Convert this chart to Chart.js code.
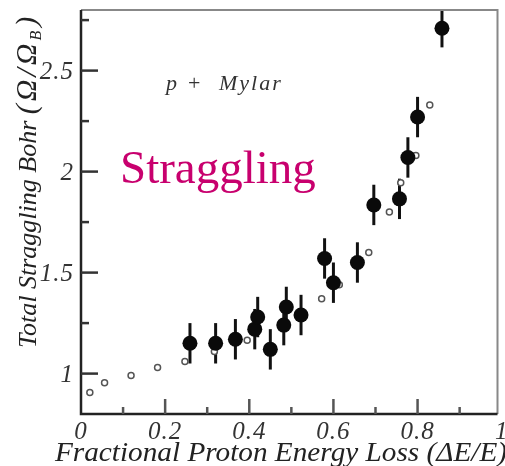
<!DOCTYPE html>
<html>
<head>
<meta charset="utf-8">
<script src="https://cdn.jsdelivr.net/npm/chart.js@4"></script>
<style>
  html, body { margin: 0; padding: 0; background: #fff; overflow: hidden; }
  #wrap { width: 505px; height: 466px; }
</style>
</head>
<body>
<div id="wrap"><canvas id="straggleChart"></canvas></div>
<script>
// measured points (filled, with error bars)
var filledX = [0.259, 0.32, 0.367, 0.413, 0.42, 0.45, 0.482, 0.488, 0.523, 0.579, 0.60, 0.657, 0.696, 0.757, 0.777, 0.80, 0.858];
var filledY = [1.15, 1.15, 1.17, 1.22, 1.28, 1.12, 1.24, 1.33, 1.29, 1.57, 1.45, 1.55, 1.835, 1.865, 2.07, 2.27, 2.71];
var filledErr = [0.1, 0.1, 0.1, 0.1, 0.1, 0.1, 0.1, 0.1, 0.1, 0.1, 0.1, 0.1, 0.1, 0.1, 0.1, 0.1, 0.095];

// open circles (calculation)
var openX = [0.021, 0.056, 0.119, 0.182, 0.247, 0.317, 0.395, 0.572, 0.614, 0.684, 0.733, 0.76, 0.796, 0.829];
var openY = [0.906, 0.955, 0.99, 1.03, 1.06, 1.11, 1.165, 1.37, 1.44, 1.60, 1.80, 1.945, 2.08, 2.33];

// axis ticks
var xTickLabels = ['0', '0.2', '0.4', '0.6', '0.8', '1'];
var xMinorTicks = [0.1, 0.3, 0.5, 0.7, 0.9];
var yTickLabels = ['1', '1.5', '2', '2.5'];
var yMinorTicks = [1.25, 1.75, 2.25, 2.75];

var SERIF = '"Liberation Serif", "DejaVu Serif", serif';

var filledPts = filledX.map(function (x, i) { return { x: x, y: filledY[i] }; });
var openPts = openX.map(function (x, i) { return { x: x, y: openY[i] }; });

// error bars, drawn under the markers
var errorBars = {
  id: 'errorBars',
  beforeDatasetsDraw: function (chart) {
    var c = chart.ctx, xs = chart.scales.x, ys = chart.scales.y;
    c.save();
    c.strokeStyle = '#111';
    c.lineWidth = 3;
    filledX.forEach(function (x, i) {
      var px = xs.getPixelForValue(x);
      var top = Math.max(ys.getPixelForValue(filledY[i] + filledErr[i]), chart.chartArea.top);
      c.beginPath();
      c.moveTo(px, top);
      c.lineTo(px, ys.getPixelForValue(filledY[i] - filledErr[i]));
      c.stroke();
    });
    c.restore();
  }
};

// frame, inward ticks, labels and titles
var frame = {
  id: 'frame',
  afterDraw: function (chart) {
    var c = chart.ctx, a = chart.chartArea, xs = chart.scales.x, ys = chart.scales.y;
    c.save();
    // top / right frame
    c.strokeStyle = '#888';
    c.lineWidth = 2;
    c.beginPath();
    c.moveTo(a.left, a.top); c.lineTo(a.right, a.top); c.lineTo(a.right, a.bottom);
    c.stroke();
    // left / bottom axes
    c.strokeStyle = '#222';
    c.lineWidth = 2.5;
    c.beginPath();
    c.moveTo(a.left, a.top); c.lineTo(a.left, a.bottom); c.lineTo(a.right, a.bottom);
    c.stroke();

    // x ticks
    c.strokeStyle = '#555';
    c.lineWidth = 2.5;
    xTickLabels.forEach(function (t) {
      var v = parseFloat(t);
      if (v <= 0 || v > xs.max) return;
      var px = xs.getPixelForValue(v);
      c.beginPath(); c.moveTo(px, a.bottom); c.lineTo(px, a.bottom - 15); c.stroke();
    });
    xMinorTicks.forEach(function (v) {
      var px = xs.getPixelForValue(v);
      c.beginPath(); c.moveTo(px, a.bottom); c.lineTo(px, a.bottom - 7); c.stroke();
    });
    // y ticks
    c.strokeStyle = '#333';
    yTickLabels.forEach(function (t) {
      var py = ys.getPixelForValue(parseFloat(t));
      c.beginPath(); c.moveTo(a.left, py); c.lineTo(a.left + 17, py); c.stroke();
    });
    yMinorTicks.forEach(function (v) {
      var py = ys.getPixelForValue(v);
      c.beginPath(); c.moveTo(a.left, py); c.lineTo(a.left + 8, py); c.stroke();
    });

    // tick labels
    c.fillStyle = '#333';
    c.font = 'italic 25px ' + SERIF;
    c.letterSpacing = '1px';
    c.textAlign = 'center';
    c.textBaseline = 'middle';
    xTickLabels.forEach(function (t) {
      c.fillText(t, xs.getPixelForValue(parseFloat(t)), a.bottom + 18);
    });
    c.textAlign = 'right';
    yTickLabels.forEach(function (t) {
      c.fillText(t, a.left - 7, ys.getPixelForValue(parseFloat(t)) + 2);
    });
    c.letterSpacing = '0px';

    // x title, stretched to the reference width
    c.fillStyle = '#222';
    c.font = 'italic 27px ' + SERIF;
    c.textAlign = 'left';
    c.textBaseline = 'alphabetic';
    var xt = 'Fractional Proton Energy Loss (\u0394E/E)';
    var sx = 452 / c.measureText(xt).width;
    c.save();
    c.translate(55, 461);
    c.scale(sx, 1);
    c.fillText(xt, 0, 0);
    c.restore();

    // y title, rotated
    c.save();
    c.translate(36, 348);
    c.rotate(-Math.PI / 2);
    c.font = 'italic 26px ' + SERIF;
    var main = 'Total Straggling Bohr ';
    c.fillText(main, 0, 0);
    var w = c.measureText(main).width;
    c.font = 'italic 30px ' + SERIF;
    c.letterSpacing = '3px';
    var grp = '(\u03A9/\u03A9';
    c.fillText(grp, w, 0);
    w += c.measureText(grp).width;
    c.font = 'italic 16px ' + SERIF;
    c.fillText('B', w, 5);
    w += c.measureText('B').width;
    c.font = 'italic 30px ' + SERIF;
    c.fillText(')', w + 1, 0);
    c.letterSpacing = '0px';
    c.restore();

    // annotations
    c.fillStyle = '#333';
    c.font = 'italic 22px ' + SERIF;
    c.fillText('p', 166, 90);
    c.font = '22px ' + SERIF;
    c.fillText('+', 188, 90);
    c.font = 'italic 22px ' + SERIF;
    c.letterSpacing = '2px';
    c.fillText('Mylar', 219, 90);
    c.letterSpacing = '0px';

    c.fillStyle = '#C8006E';
    c.font = '47px ' + SERIF;
    c.fillText('Straggling', 120, 183);
    c.restore();
  }
};

var ctx = document.getElementById('straggleChart').getContext('2d');
var chart = new Chart(ctx, {
  type: 'scatter',
  data: {
    datasets: [{
      label: 'Data',
      data: filledPts,
      pointRadius: 7.5,
      pointHoverRadius: 7.5,
      backgroundColor: '#0a0a0a',
      borderWidth: 0
    }, {
      label: 'Calc',
      data: openPts,
      pointRadius: 3,
      pointHoverRadius: 3,
      backgroundColor: '#fff',
      borderColor: '#555',
      borderWidth: 1.5
    }]
  },
  options: {
    responsive: true,
    maintainAspectRatio: false,
    animation: false,
    layout: { padding: { left: 81, right: 1, top: 10, bottom: 52 } },
    plugins: { legend: { display: false }, tooltip: { enabled: false } },
    scales: {
      x: { type: 'linear', min: 0, max: 0.99, display: false },
      y: { type: 'linear', min: 0.8, max: 2.8, display: false }
    }
  },
  plugins: [errorBars, frame]
});
</script>
</body>
</html>
